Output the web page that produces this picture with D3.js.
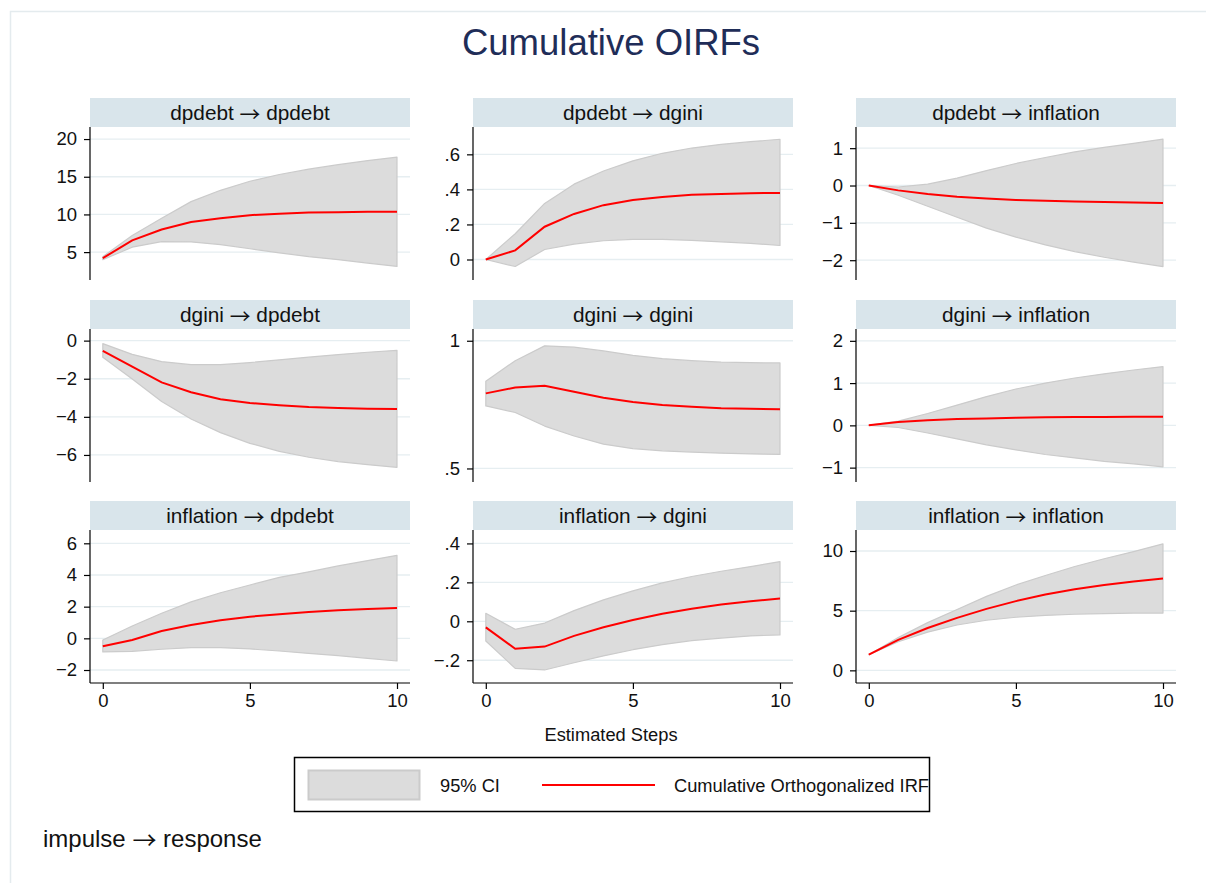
<!DOCTYPE html>
<html>
<head>
<meta charset="utf-8">
<script src="https://cdn.jsdelivr.net/npm/d3@7"></script>
<style>
  html, body { margin: 0; padding: 0; background: #ffffff; }
  svg { display: block; font-family: "Liberation Sans", Arial, Helvetica, sans-serif; }
</style>
</head>
<body>
<svg id="chart" width="1206" height="883"></svg>
<script>
// Forecast horizon
const steps = [0, 1, 2, 3, 4, 5, 6, 7, 8, 9, 10];
const variables = ["dpdebt", "dgini", "inflation"];
const xTicks = [0, 5, 10];

// Cumulative orthogonalized IRFs with 95% bounds (impulse -> response)
const irf_dpdebt_dpdebt = [4.2, 6.55, 8.0, 9.0, 9.5, 9.9, 10.1, 10.24, 10.3, 10.35, 10.37];
const lo_dpdebt_dpdebt  = [4.0, 5.65, 6.4, 6.35, 6.0, 5.45, 4.9, 4.4, 4.0, 3.55, 3.1];
const hi_dpdebt_dpdebt  = [4.4, 7.2, 9.5, 11.7, 13.2, 14.4, 15.3, 16.0, 16.6, 17.15, 17.6];

const irf_dpdebt_dgini = [0, 0.052, 0.187, 0.26, 0.31, 0.34, 0.357, 0.369, 0.374, 0.378, 0.38];
const lo_dpdebt_dgini  = [0, -0.04, 0.057, 0.088, 0.107, 0.115, 0.115, 0.109, 0.101, 0.092, 0.08];
const hi_dpdebt_dgini  = [0, 0.147, 0.32, 0.43, 0.505, 0.563, 0.606, 0.636, 0.657, 0.672, 0.686];

const irf_dpdebt_inflation = [0, -0.13, -0.23, -0.30, -0.35, -0.385, -0.41, -0.43, -0.44, -0.455, -0.465];
const lo_dpdebt_inflation  = [0, -0.26, -0.555, -0.85, -1.14, -1.38, -1.59, -1.77, -1.92, -2.05, -2.17];
const hi_dpdebt_inflation  = [0, -0.04, 0.035, 0.2, 0.4, 0.59, 0.75, 0.9, 1.02, 1.13, 1.24];

const irf_dgini_dpdebt = [-0.54, -1.36, -2.19, -2.71, -3.08, -3.27, -3.39, -3.48, -3.53, -3.57, -3.59];
const lo_dgini_dpdebt  = [-0.87, -2.01, -3.2, -4.11, -4.83, -5.39, -5.81, -6.12, -6.35, -6.51, -6.65];
const hi_dgini_dpdebt  = [-0.16, -0.72, -1.1, -1.26, -1.26, -1.15, -1.01, -0.87, -0.73, -0.61, -0.51];

const irf_dgini_dgini = [0.794, 0.817, 0.824, 0.80, 0.777, 0.76, 0.748, 0.742, 0.736, 0.734, 0.732];
const lo_dgini_dgini  = [0.745, 0.719, 0.666, 0.627, 0.595, 0.578, 0.569, 0.564, 0.56, 0.557, 0.555];
const hi_dgini_dgini  = [0.841, 0.922, 0.98, 0.975, 0.96, 0.943, 0.93, 0.922, 0.916, 0.914, 0.913];

const irf_dgini_inflation = [0, 0.08, 0.12, 0.15, 0.165, 0.18, 0.19, 0.197, 0.2, 0.205, 0.205];
const lo_dgini_inflation  = [0, -0.05, -0.18, -0.32, -0.46, -0.58, -0.69, -0.77, -0.85, -0.91, -0.98];
const hi_dgini_inflation  = [0, 0.1, 0.28, 0.48, 0.68, 0.86, 1.0, 1.12, 1.22, 1.31, 1.39];

const irf_inflation_dpdebt = [-0.5, -0.1, 0.46, 0.84, 1.14, 1.37, 1.52, 1.66, 1.77, 1.85, 1.92];
const lo_inflation_dpdebt  = [-0.86, -0.82, -0.69, -0.59, -0.59, -0.67, -0.8, -0.95, -1.09, -1.26, -1.43];
const hi_inflation_dpdebt  = [-0.1, 0.78, 1.58, 2.3, 2.88, 3.37, 3.85, 4.2, 4.57, 4.91, 5.24];

const irf_inflation_dgini = [-0.031, -0.141, -0.13, -0.075, -0.031, 0.007, 0.039, 0.065, 0.086, 0.103, 0.117];
const lo_inflation_dgini  = [-0.101, -0.242, -0.25, -0.213, -0.178, -0.146, -0.12, -0.099, -0.086, -0.075, -0.07];
const hi_inflation_dgini  = [0.041, -0.041, -0.009, 0.055, 0.11, 0.156, 0.197, 0.23, 0.257, 0.281, 0.307];

const irf_inflation_inflation = [1.31, 2.55, 3.55, 4.4, 5.15, 5.8, 6.35, 6.8, 7.15, 7.45, 7.7];
const lo_inflation_inflation  = [1.31, 2.4, 3.2, 3.8, 4.2, 4.45, 4.6, 4.7, 4.75, 4.8, 4.8];
const hi_inflation_inflation  = [1.31, 2.75, 4.0, 5.1, 6.2, 7.15, 7.95, 8.7, 9.35, 9.95, 10.6];

// Y tick values and their labels, panel by panel (row = impulse, column = response)
const yTickValues = [
  [5, 10, 15, 20], [0, 0.2, 0.4, 0.6], [-2, -1, 0, 1],
  [-6, -4, -2, 0], [0.5, 1], [-1, 0, 1, 2],
  [-2, 0, 2, 4, 6], [-0.2, 0, 0.2, 0.4], [0, 5, 10]
];
const yTickLabels = [
  ["5", "10", "15", "20"], ["0", ".2", ".4", ".6"], ["\u22122", "\u22121", "0", "1"],
  ["\u22126", "\u22124", "\u22122", "0"], [".5", "1"], ["\u22121", "0", "1", "2"],
  ["\u22122", "0", "2", "4", "6"], ["\u2212.2", "0", ".2", ".4"], ["0", "5", "10"]
];

const series = {
  dpdebt_dpdebt: [irf_dpdebt_dpdebt, lo_dpdebt_dpdebt, hi_dpdebt_dpdebt],
  dpdebt_dgini: [irf_dpdebt_dgini, lo_dpdebt_dgini, hi_dpdebt_dgini],
  dpdebt_inflation: [irf_dpdebt_inflation, lo_dpdebt_inflation, hi_dpdebt_inflation],
  dgini_dpdebt: [irf_dgini_dpdebt, lo_dgini_dpdebt, hi_dgini_dpdebt],
  dgini_dgini: [irf_dgini_dgini, lo_dgini_dgini, hi_dgini_dgini],
  dgini_inflation: [irf_dgini_inflation, lo_dgini_inflation, hi_dgini_inflation],
  inflation_dpdebt: [irf_inflation_dpdebt, lo_inflation_dpdebt, hi_inflation_dpdebt],
  inflation_dgini: [irf_inflation_dgini, lo_inflation_dgini, hi_inflation_dgini],
  inflation_inflation: [irf_inflation_inflation, lo_inflation_inflation, hi_inflation_inflation]
};

// ---- layout ----
const colX = [90, 473, 856];          // left edge of each plot region
const rowTop = [98, 300, 501];        // top of each header band
const panelW = 320;
const headerH = 29;
const plotH = 153;
const xPadL = 12.8, xPadR = 13;
// y ranges of the plot regions, per panel
const yDomains = [
  [1.3, 21.6], [-0.117, 0.756], [-2.53, 1.567],
  [-7.42, 0.61], [0.447, 1.046], [-1.34, 2.28],
  [-2.82, 6.84], [-0.317, 0.469], [-1.06, 11.76]
];

const ciFill = "#dcdcdc", ciStroke = "#cbcbcb";
const lineColor = "#ff0000";
const headerFill = "#d9e5eb";
const gridColor = "#e6eef1";
const tickFont = 18.5;

const svg = d3.select("#chart");

// "a → b" label with a long, thin arrow glyph sitting at mid x-height
function arrowLabel(sel, left, right, shift) {
  sel.append("tspan").text(left + " ");
  sel.append("tspan").attr("font-family", "Noto Sans CJK JP, sans-serif")
    .attr("dy", shift).text("\u2192");
  sel.append("tspan").attr("dy", -shift).text(" " + right);
}

// outer frame
svg.append("rect")
  .attr("x", 10.5).attr("y", 11.5)
  .attr("width", 1220).attr("height", 900)
  .attr("fill", "none").attr("stroke", "#e4ebee").attr("stroke-width", 1.5);

// title
svg.append("text")
  .attr("x", 611).attr("y", 55)
  .attr("text-anchor", "middle")
  .attr("font-size", 36.5)
  .attr("fill", "#1f2d58")
  .text("Cumulative OIRFs");

variables.forEach((imp, r) => {
  variables.forEach((resp, c) => {
    const k = r * 3 + c;
    const [irf, lo, hi] = series[imp + "_" + resp];
    const x0 = colX[c];
    const top = rowTop[r] + headerH;
    const bottom = top + plotH;

    const x = d3.scaleLinear().domain([0, 10]).range([x0 + xPadL, x0 + panelW - xPadR]);
    const y = d3.scaleLinear().domain(yDomains[k]).range([bottom, top]);

    const g = svg.append("g");

    // header band
    g.append("rect")
      .attr("x", x0).attr("y", rowTop[r])
      .attr("width", panelW).attr("height", headerH)
      .attr("fill", headerFill);
    g.append("text")
      .attr("x", x0 + panelW / 2).attr("y", rowTop[r] + headerH / 2 + 7)
      .attr("text-anchor", "middle")
      .attr("font-size", 20.8)
      .attr("fill", "#111")
      .call(arrowLabel, imp, resp, 2);

    // grid lines
    g.selectAll("line.grid").data(yTickValues[k]).enter().append("line")
      .attr("class", "grid")
      .attr("x1", x0).attr("x2", x0 + panelW)
      .attr("y1", d => y(d)).attr("y2", d => y(d))
      .attr("stroke", gridColor).attr("stroke-width", 1.3);

    // confidence band
    const area = d3.area()
      .x((d, i) => x(steps[i]))
      .y0((d, i) => y(lo[i]))
      .y1((d, i) => y(hi[i]));
    g.append("path")
      .datum(steps)
      .attr("d", area)
      .attr("fill", ciFill)
      .attr("stroke", ciStroke)
      .attr("stroke-width", 1.2)
      .attr("stroke-linejoin", "round");

    // IRF line
    const line = d3.line()
      .x((d, i) => x(steps[i]))
      .y(d => y(d));
    g.append("path")
      .datum(irf)
      .attr("d", line)
      .attr("fill", "none")
      .attr("stroke", lineColor)
      .attr("stroke-width", 2);

    // y axis
    const labels = yTickLabels[k];
    const yAxis = d3.axisLeft(y)
      .tickValues(yTickValues[k])
      .tickSize(6)
      .tickPadding(7)
      .tickFormat((d, i) => labels[i]);
    const ya = g.append("g")
      .attr("transform", `translate(${x0},0)`)
      .call(yAxis);
    ya.select(".domain").remove();
    ya.append("line")
      .attr("x1", 0).attr("x2", 0)
      .attr("y1", top).attr("y2", bottom)
      .attr("stroke", "#000").attr("stroke-width", 1.2);
    ya.selectAll(".tick line").attr("stroke", "#000").attr("stroke-width", 1.2);
    ya.selectAll(".tick text")
      .attr("font-size", tickFont)
      .attr("font-family", "Liberation Sans, Arial, sans-serif")
      .attr("fill", "#111");

    // x axis only on the bottom row
    if (r === 2) {
      const xAxis = d3.axisBottom(x)
        .tickValues(xTicks)
        .tickSize(6)
        .tickPadding(5)
        .tickFormat(d3.format("d"));
      const xa = g.append("g")
        .attr("transform", `translate(0,${bottom})`)
        .call(xAxis);
      xa.select(".domain").remove();
      xa.append("line")
        .attr("x1", x0).attr("x2", x0 + panelW)
        .attr("y1", 0).attr("y2", 0)
        .attr("stroke", "#000").attr("stroke-width", 1.2);
      xa.selectAll(".tick line").attr("stroke", "#000").attr("stroke-width", 1.2);
      xa.selectAll(".tick text")
        .attr("font-size", tickFont)
        .attr("font-family", "Liberation Sans, Arial, sans-serif")
        .attr("fill", "#111");
    }
  });
});

// x axis title
svg.append("text")
  .attr("x", 611).attr("y", 741)
  .attr("text-anchor", "middle")
  .attr("font-size", 18.3)
  .attr("fill", "#111")
  .text("Estimated Steps");

// legend
const legend = svg.append("g");
legend.append("clipPath").attr("id", "legendClip")
  .append("rect").attr("x", 294).attr("y", 757).attr("width", 635).attr("height", 55);
legend.append("rect")
  .attr("x", 294.5).attr("y", 757.5).attr("width", 635).attr("height", 54)
  .attr("fill", "#fff").attr("stroke", "#000").attr("stroke-width", 1.5);
legend.append("rect")
  .attr("x", 308.5).attr("y", 770.5).attr("width", 111).attr("height", 29)
  .attr("fill", ciFill).attr("stroke", ciStroke).attr("stroke-width", 2);
legend.append("text")
  .attr("x", 440).attr("y", 792)
  .attr("font-size", 18.3).attr("fill", "#111")
  .text("95% CI");
legend.append("line")
  .attr("x1", 542).attr("x2", 655).attr("y1", 785).attr("y2", 785)
  .attr("stroke", lineColor).attr("stroke-width", 2);
legend.append("text")
  .attr("x", 674).attr("y", 792)
  .attr("font-size", 18.3).attr("fill", "#111")
  .attr("clip-path", "url(#legendClip)")
  .text("Cumulative Orthogonalized IRF");

// note
svg.append("text")
  .attr("x", 43).attr("y", 847)
  .attr("font-size", 24).attr("fill", "#111")
  .call(arrowLabel, "impulse", "response", 2);
</script>
</body>
</html>
